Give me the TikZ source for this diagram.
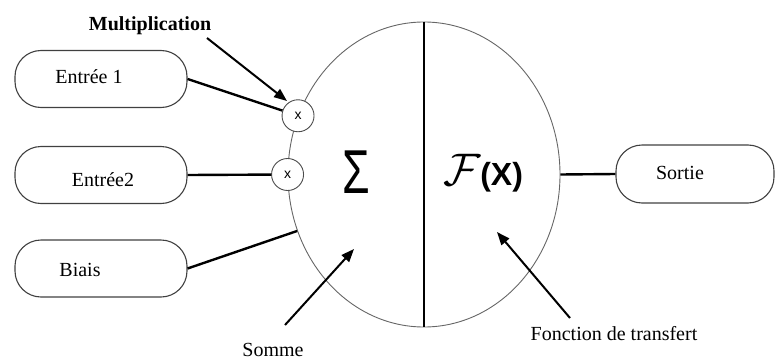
\documentclass[tikz,border=0pt]{standalone}
\usepackage{fontspec}
\setmainfont{Liberation Serif}
\newfontfamily\lsans{Liberation Sans}
\usetikzlibrary{shapes.geometric,arrows.meta}
\tikzset{
  inbox/.style={draw=black!75,line width=1.1pt,rounded corners=26pt,minimum width=172pt,minimum height=57pt,inner sep=0pt},
  lbl/.style={font=\fontsize{20}{24}\selectfont,inner sep=0pt},
  mulc/.style={circle,draw=black!70,line width=0.9pt,fill=white,minimum size=32pt,inner sep=0pt,font=\lsans\fontsize{14}{14}\selectfont},
  wire/.style={line width=2.4pt,black},
  pointer/.style={line width=2pt,black,-{Triangle[length=13pt,width=10pt]}}
}
\begin{document}
\begin{tikzpicture}[x=1pt,y=-1pt]
\useasboundingbox (0,0) rectangle (775,361);
% main neuron
\node[ellipse,draw=black!60,line width=0.9pt,minimum width=272pt,minimum height=305pt,inner sep=0pt] (big) at (424,174.5) {};
\draw[line width=1.8pt] (big.north) -- (big.south);
\node[inner sep=0pt] (sig) at (356,172) {\scalebox{0.72}[1]{\lsans\fontsize{62}{62}\selectfont Σ}};
\node[inner sep=0pt] (fx) at (483,173) {{\fontsize{20}{24}\selectfont\scalebox{2.2}{$\mathcal{F}$}}\lsans\bfseries\fontsize{32}{32}\selectfont(X)};
% multiplication circles
\node[mulc] (m1) at (big.155) {x};
\node[mulc] (m2) at (big.west) {x};
% input boxes
\node[inbox] (e1) at (101,79) {};
\node[lbl] (t1) at (89,77) {Entrée 1};
\node[inbox] (e2) at (101,175) {};
\node[lbl] (t2) at (103,180) {Entrée2};
\node[inbox] (b) at (101,268.5) {};
\node[lbl] (t3) at (80,270) {Biais};
% output box
\node[inbox,minimum width=158pt,minimum height=58pt] (s) at (695,174) {};
\node[lbl] (t4) at (680,173) {Sortie};
% wires
\draw[wire] (e1.east) -- (m1);
\draw[wire] (e2.east) -- (m2);
\draw[wire] (b.east) -- (big.204);
\draw[wire] (big.east) -- (s.west);
% annotations
\node[lbl,font=\bfseries\fontsize{20}{24}\selectfont] (mult) at (150,26) {Multiplication};
\node[lbl] (som) at (273,350) {Somme};
\node[lbl] (fdt) at (614,334) {Fonction de transfert};
\coordinate (a1) at (207,38);
\coordinate (a1e) at (287,101);
\coordinate (a2) at (285,325);
\coordinate (a2e) at (354,249);
\coordinate (a3) at (570,318);
\coordinate (a3e) at (497,232);
\draw[pointer] (a1) -- (a1e);
\draw[pointer] (a2) -- (a2e);
\draw[pointer] (a3) -- (a3e);
\end{tikzpicture}
\end{document}
